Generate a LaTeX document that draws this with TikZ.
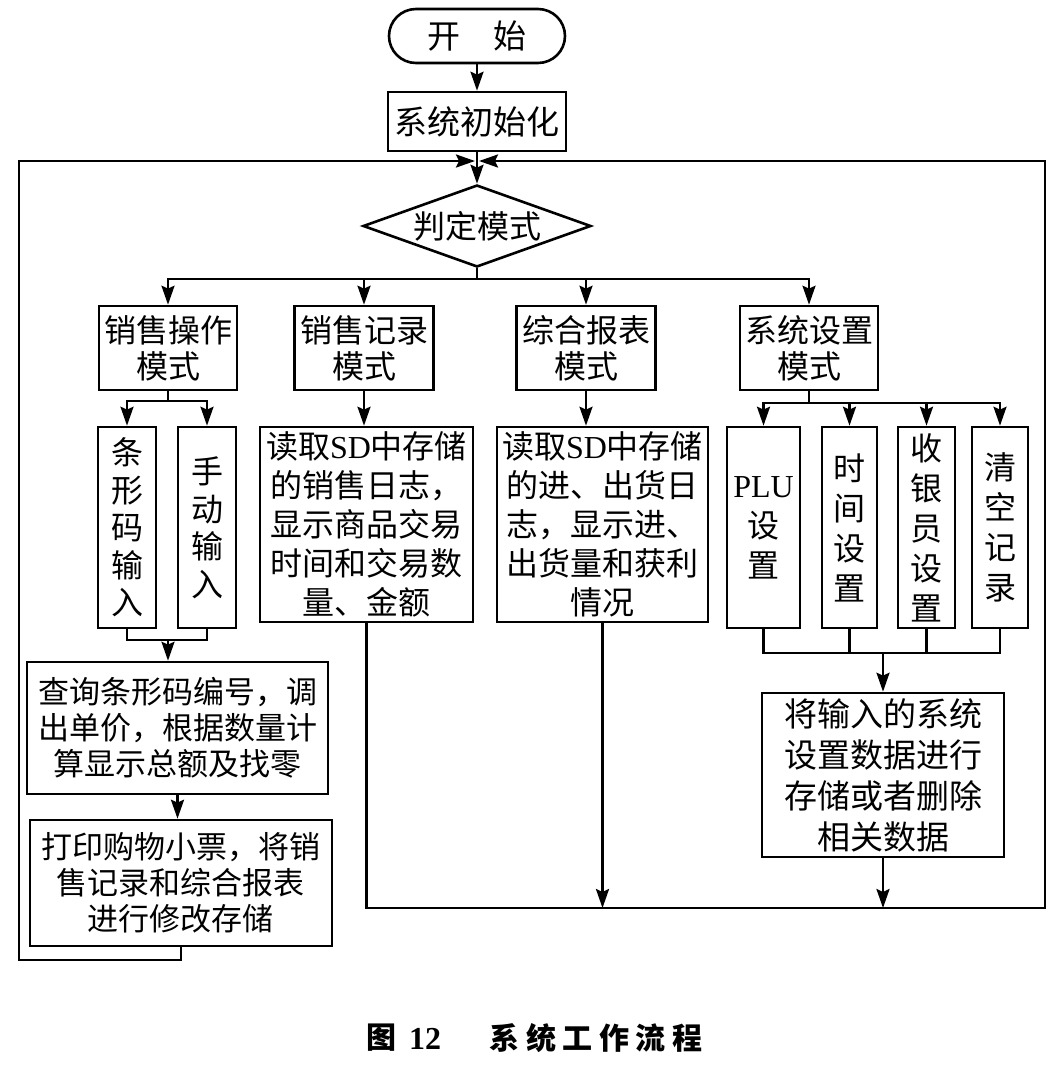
\documentclass[tikz,border=0pt]{standalone}
\usepackage{fontspec}
\newfontfamily\cjk{Noto Sans CJK SC}
\newfontfamily\lat{Liberation Serif}
\usetikzlibrary{shapes.geometric,arrows.meta}
\newcommand\setfs[2]{\fontsize{#1}{#2}\selectfont}
\begin{document}
\begin{tikzpicture}[x=1pt,y=-1pt,
  box/.style={draw, line width=2.6pt, inner sep=0pt, align=center},
  ln/.style={line width=2.6pt},
  arr/.style={line width=2.6pt, -{Stealth[length=19pt,width=13pt,inset=3pt]}},
  txt/.style={font=\cjk\setfs{32}{36}},
  vtxt/.style={font=\cjk\setfs{32}{40}},
]
\fill[white] (0,0) rectangle (1059,1066);
\useasboundingbox (0,0) rectangle (1059,1066);

% main column
\node[box, rounded corners=27pt, minimum width=176pt, minimum height=54pt, font=\cjk\setfs{33}{40}] (start) at (477,36) {开\hspace{1em}始};
\node[box, minimum width=178pt, minimum height=59pt, font=\cjk\setfs{33}{40}] (init) at (477,121.5) {系统初始化};
\node[box, shape=diamond, aspect=2.78, minimum width=228pt, minimum height=82pt, font=\cjk\setfs{32}{40}] (dia) at (477,226) {判定模式};

% mode boxes
\node[box, txt, minimum width=138pt, minimum height=84pt] (m1) at (168,348) {销售操作\\模式};
\node[box, txt, minimum width=139pt, minimum height=84pt] (m2) at (364,348) {销售记录\\模式};
\node[box, txt, minimum width=139pt, minimum height=84pt] (m3) at (586,348) {综合报表\\模式};
\node[box, txt, minimum width=138pt, minimum height=84pt] (m4) at (809,348) {系统设置\\模式};

% sales operation
\node[box, font=\cjk\setfs{32}{37.5}, minimum width=58pt, minimum height=201pt] (bar) at (127,527.5) {条\\形\\码\\输\\入};
\node[box, font=\cjk\setfs{32}{37.5}, minimum width=58pt, minimum height=201pt] (man) at (207,527.5) {手\\动\\输\\入};
\node[box, font=\cjk\setfs{31}{36}, minimum width=301pt, minimum height=132pt] (q) at (177.5,728) {查询条形码编号，调\\出单价，根据数量计\\算显示总额及找零};
\node[box, font=\cjk\setfs{31}{36}, minimum width=302pt, minimum height=126pt] (print) at (181,883) {打印购物小票，将销\\售记录和综合报表\\进行修改存储};

% records / reports
\node[box, font=\cjk\setfs{32}{39}, minimum width=213pt, minimum height=195pt] (sd1) at (366.5,524.5) {读取{\lat SD}中存储\\的销售日志，\\显示商品交易\\时间和交易数\\量、金额};
\node[box, font=\cjk\setfs{32}{39}, minimum width=211pt, minimum height=195pt] (sd2) at (602.5,524.5) {读取{\lat SD}中存储\\的进、出货日\\志，显示进、\\出货量和获利\\情况};

% system settings
\node[box, vtxt, minimum width=73pt, minimum height=201pt] (plu) at (763.5,527.5) {{\lat PLU}\\设\\置};
\node[box, vtxt, minimum width=55pt, minimum height=201pt] (tim) at (849.5,527.5) {时\\间\\设\\置};
\node[box, vtxt, minimum width=57pt, minimum height=201pt] (cash) at (926.5,527.5) {收\\银\\员\\设\\置};
\node[box, vtxt, minimum width=56pt, minimum height=201pt] (clr) at (1000,527.5) {清\\空\\记\\录};
\node[box, font=\cjk\setfs{33}{41}, minimum width=242pt, minimum height=164pt] (save) at (883,775) {将输入的系统\\设置数据进行\\存储或者删除\\相关数据};

% caption
\node[font=\cjk\bfseries\setfs{30}{36}] (cap1) at (381,1038) {图};
\node[font=\lat\bfseries\setfs{32}{36}] (cap2) at (425,1039) {12};
\node[font=\cjk\bfseries\setfs{30}{36}] (cap3) at (596,1038) {系\kern6.5pt 统\kern6.5pt 工\kern6.5pt 作\kern6.5pt 流\kern6.5pt 程};

% helper coordinates
\coordinate (jn) at (477,161);
\coordinate (br) at (477,279);
\coordinate (s1) at (168,401);
\coordinate (j1) at (168,640);
\coordinate (s4) at (809,403);
\coordinate (j4) at (883,653);
\coordinate (lb) at (19,960);
\coordinate (lt) at (19,161);
\coordinate (rb) at (1045,908);
\coordinate (rt) at (1045,161);

% connectors
\draw[arr] (start) -- (init);
\draw[ln] (init.south) -- (jn);
\draw[arr] (jn) -- (dia.north);
\draw[ln] (dia.south) -- (br);
\draw[arr] (br) -| (m1.north);
\draw[arr] (br) -| (m2.north);
\draw[arr] (br) -| (m3.north);
\draw[arr] (br) -| (m4.north);

\draw[ln] (m1.south) -- (s1);
\draw[arr] (s1) -| (bar.north);
\draw[arr] (s1) -| (man.north);
\draw[ln] (bar.south) |- (j1);
\draw[ln] (man.south) |- (j1);
\draw[arr] (j1) -- (j1 |- q.north);
\draw[arr] (q.south) -- (q.south |- print.north);
\draw[arr, shorten >=2pt] (print.south) |- (lb) -- (lt) -- (jn);

\draw[arr] (m2.south) -- (m2.south |- sd1.north);
\draw[arr] (m3.south) -- (m3.south |- sd2.north);

\draw[ln] (m4.south) -- (s4);
\draw[arr] (s4) -| (plu.north);
\draw[arr] (s4) -| (tim.north);
\draw[arr] (s4) -| (cash.north);
\draw[arr] (s4) -| (clr.north);
\draw[ln] (plu.south) |- (j4);
\draw[ln] (tim.south) |- (j4);
\draw[ln] (cash.south) |- (j4);
\draw[ln] (clr.south) |- (j4);
\draw[arr] (j4) -- (save.north);

\draw[arr, shorten >=2pt] (sd1.south) |- (rb) -- (rt) -- (jn);
\draw[arr] (sd2.south) -- (sd2.south |- rb);
\draw[arr] (save.south) -- (save.south |- rb);
\end{tikzpicture}
\end{document}
